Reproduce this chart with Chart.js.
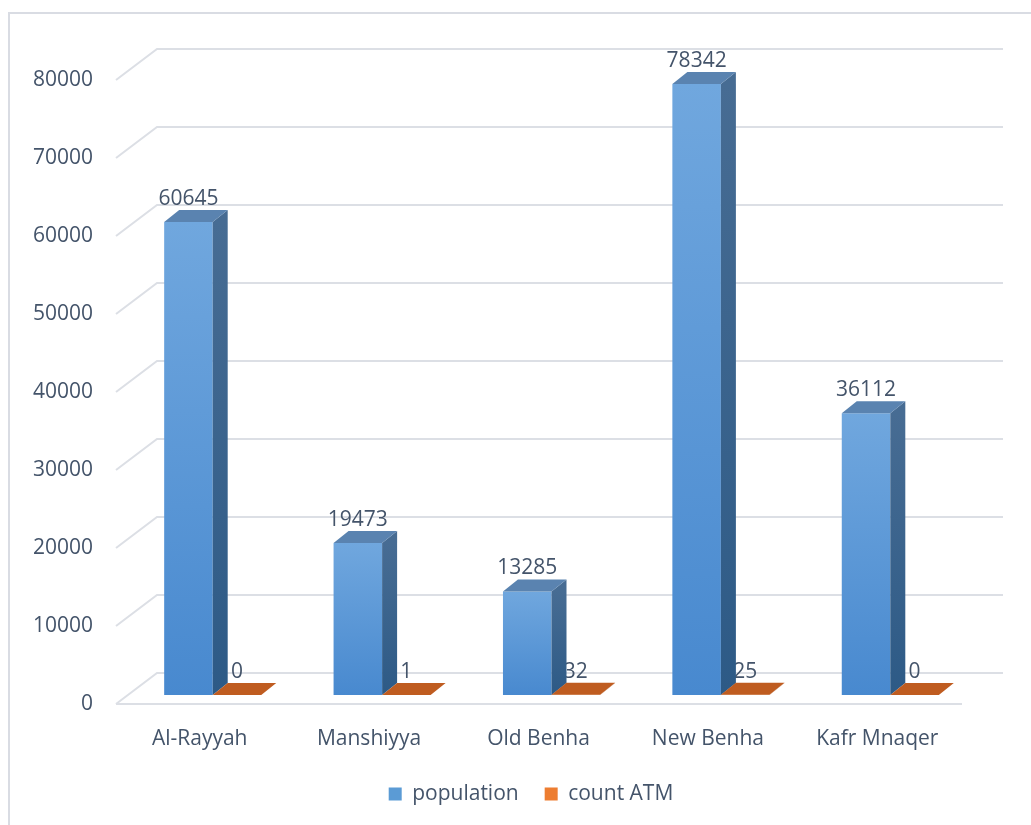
<!DOCTYPE html>
<html><head><meta charset="utf-8">
<script src="https://cdn.jsdelivr.net/npm/chart.js@4.4.1/dist/chart.umd.min.js"></script>
<style>html,body{margin:0;padding:0;background:#fff;overflow:hidden}#wrap{width:1031px;height:825px;position:relative}</style>
</head><body><div id="wrap"><canvas id="c" width="1031" height="825"></canvas></div>
<script>
const categories = ['Al-Rayyah', 'Manshiyya', 'Old Benha', 'New Benha', 'Kafr Mnaqer'];
const population = [60645, 19473, 13285, 78342, 36112];
const countATM = [0, 1, 32, 25, 0];
const yTicks = [0, 10000, 20000, 30000, 40000, 50000, 60000, 70000, 80000];
const seriesNames = ['population', 'count ATM'];

const TEXT = '#44546a';
const GRID = '#dcdfe5';
const FONT = "'Open Sans', 'DejaVu Sans', sans-serif";
const DX = 15, DY = -12;   // depth of the 3D boxes
const SX = 13, SY = -9;    // bars sit halfway into the floor

Chart.defaults.font.family = FONT;
Chart.defaults.color = TEXT;

function frontGrad(c, isPop) {
  const chart = c.chart;
  if (!chart.chartArea || c.type !== 'data') return isPop ? '#5b9bd5' : '#ed7d31';
  const y = chart.scales.y;
  const t = y.getPixelForValue(c.raw), b = y.getPixelForValue(0);
  const g = chart.ctx.createLinearGradient(0, Math.min(t, b - 1), 0, b);
  if (isPop) { g.addColorStop(0, '#70a7de'); g.addColorStop(1, '#4889cf'); }
  else { g.addColorStop(0, '#f2914f'); g.addColorStop(1, '#d86b22'); }
  return g;
}

const threeD = {
  id: 'threeD',
  beforeDraw(chart) {
    const ctx = chart.ctx;
    ctx.save();
    ctx.strokeStyle = '#d9dce3';
    ctx.lineWidth = 2;
    ctx.beginPath();
    ctx.moveTo(9, 825); ctx.lineTo(9, 13); ctx.lineTo(1031, 13);
    ctx.stroke();
    ctx.restore();
  },
  beforeDatasetsDraw(chart) {
    const {ctx, chartArea: a, scales: {y}} = chart;
    ctx.save();
    ctx.strokeStyle = GRID; ctx.lineWidth = 2;
    const bx = a.left + 42, byOff = -31, bRight = a.right + 41;
    yTicks.forEach(v => {
      const py = Math.round(y.getPixelForValue(v));
      ctx.beginPath();
      ctx.moveTo(a.left + 1, py);
      ctx.lineTo(bx, py + byOff);
      ctx.lineTo(bRight, py + byOff);
      ctx.stroke();
    });
    const p0 = Math.round(y.getPixelForValue(0));
    ctx.beginPath();
    ctx.moveTo(a.left + 1, p0); ctx.lineTo(a.right, p0);
    ctx.stroke();
    ctx.restore();

    ctx.save();
    ctx.translate(SX, SY);
    ctx.fillStyle = TEXT;
    ctx.font = "21px " + FONT;
    ctx.textAlign = 'center';
    ctx.textBaseline = 'alphabetic';
    chart.getDatasetMeta(1).data.forEach((bar, i) => {
      ctx.fillText(String(countATM[i]), bar.x, bar.y - 17);
    });
  },
  afterDatasetsDraw(chart) {
    const ctx = chart.ctx;
    const m0 = chart.getDatasetMeta(0), m1 = chart.getDatasetMeta(1);
    const faces = (bar, topCol, sideA, sideB) => {
      const {x, y, base, width} = bar.getProps(['x', 'y', 'base', 'width'], true);
      const l = x - width / 2, r = x + width / 2;
      const g = ctx.createLinearGradient(0, y, 0, base);
      g.addColorStop(0, sideA); g.addColorStop(1, sideB);
      ctx.fillStyle = g;
      ctx.beginPath();
      ctx.moveTo(r, y); ctx.lineTo(r + DX, y + DY); ctx.lineTo(r + DX, base + DY); ctx.lineTo(r, base);
      ctx.closePath(); ctx.fill();
      ctx.fillStyle = topCol;
      ctx.beginPath();
      ctx.moveTo(l, y); ctx.lineTo(r, y); ctx.lineTo(r + DX, y + DY); ctx.lineTo(l + DX, y + DY);
      ctx.closePath(); ctx.fill();
    };
    m0.data.forEach((bar, i) => {
      faces(bar, '#5a83b0', '#476c93', '#2d5a86');
      faces(m1.data[i], '#bf5c20', '#a34d18', '#8f4314');
    });
    ctx.fillStyle = TEXT;
    ctx.font = "21px " + FONT;
    ctx.textAlign = 'center';
    ctx.textBaseline = 'alphabetic';
    m0.data.forEach((bar, i) => {
      ctx.fillText(String(population[i]), bar.x, bar.y - 17);
    });
    ctx.restore();
  }
};

new Chart(document.getElementById('c'), {
  type: 'bar',
  data: {
    labels: categories,
    datasets: [
      { label: seriesNames[0], data: population, backgroundColor: c => frontGrad(c, true), borderWidth: 0, clip: false },
      { label: seriesNames[1], data: countATM, backgroundColor: c => frontGrad(c, false), borderWidth: 0, clip: false }
    ]
  },
  options: {
    responsive: false,
    animation: false,
    devicePixelRatio: 1,
    layout: { padding: { top: 80, left: 0, right: -31, bottom: 10.5 } },
    datasets: { bar: { categoryPercentage: 0.573, barPercentage: 1 } },
    plugins: {
      tooltip: { enabled: false },
      legend: {
        position: 'bottom',
        labels: {
          boxWidth: 13, boxHeight: 13, padding: 26,
          font: { size: 21 }, color: TEXT,
          generateLabels: chart => seriesNames.map((n, i) => ({
            text: n, fillStyle: i === 0 ? '#5b9bd5' : '#ed7d31',
            strokeStyle: 'rgba(0,0,0,0)', lineWidth: 0, hidden: false, datasetIndex: i, fontColor: TEXT
          }))
        }
      }
    },
    scales: {
      x: {
        grid: { display: false }, border: { display: false },
        ticks: { font: { size: 21 }, color: TEXT, padding: 14, maxRotation: 0 },
        afterFit: s => { s.height = 53.5; }
      },
      y: {
        min: 0, max: 80000,
        grid: { display: false, drawTicks: false }, border: { display: false },
        ticks: { stepSize: 10000, font: { size: 21 }, color: TEXT, padding: 22, callback: v => String(v) },
        afterFit: s => { s.width = 115; }
      },
      y2: {
        type: 'linear', position: 'right',
        grid: { display: false, drawTicks: false }, border: { display: false },
        ticks: { display: false },
        afterFit: s => { s.width = 100; }
      }
    }
  },
  plugins: [threeD]
});
</script>
</body></html>
